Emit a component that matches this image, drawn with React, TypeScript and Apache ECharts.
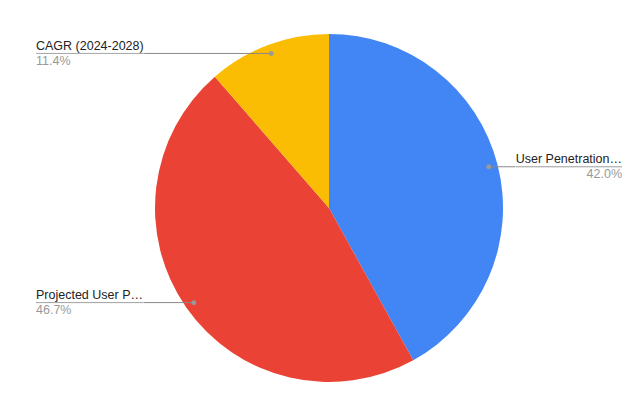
import React, { useEffect, useRef } from "react";
import * as echarts from "echarts";

const categories = ["User Penetration…", "Projected User P…", "CAGR (2024-2028)"];
const values = [42.0, 46.7, 11.4];
const colors = ["#4285F4", "#EA4335", "#FBBC04"];
// label edge distance per slice (left side slices sit 36px from the edge, right side 14px)
const edgeDistances = [14, 36, 36];

const CX = 329;
const CY = 208;
const R = 174;
const LABEL_R = 165;
const FONT = "'Liberation Sans', Arial, sans-serif";

export default function App() {
  const ref = useRef<HTMLDivElement>(null);

  useEffect(() => {
    if (!ref.current) return;
    const chart = echarts.init(ref.current, undefined, { renderer: "svg" });

    const total = values.reduce((a, b) => a + b, 0);
    let acc = 0;
    const mids = values.map((v) => {
      const m = (acc + v / 2) / total;
      acc += v;
      return [m];
    });

    const option: any = {
      animation: false,
      backgroundColor: "#ffffff",
      series: [
        {
          type: "pie",
          center: [CX, CY],
          radius: [0, R],
          startAngle: 90,
          clockwise: true,
          silent: true,
          label: { show: false },
          labelLine: { show: false },
          itemStyle: { borderWidth: 0 },
          data: categories.map((name, i) => ({
            name,
            value: values[i],
            itemStyle: { color: colors[i] },
          })),
          z: 1,
        },
        {
          type: "pie",
          center: [CX, CY],
          radius: [0, LABEL_R],
          startAngle: 90,
          clockwise: true,
          silent: true,
          itemStyle: { color: "rgba(0,0,0,0)", borderWidth: 0 },
          labelLine: {
            show: true,
            length: 0,
            length2: 20,
            smooth: false,
            lineStyle: { color: "#888", width: 1 },
          },
          data: categories.map((name, i) => ({
            name,
            value: values[i],
            label: {
              show: true,
              position: "outside",
              alignTo: "edge",
              edgeDistance: edgeDistances[i],
              distanceToLabelLine: 0,
              formatter: (p: any) =>
                `{name|${p.name}}\n{hr|}\n{pct|${p.value.toFixed(1)}%}`,
              rich: {
                name: { fontSize: 12.5, color: "#222", lineHeight: 15, fontFamily: FONT },
                hr: {
                  width: "100%",
                  height: 0,
                  lineHeight: 0,
                  borderColor: "#888",
                  borderWidth: 0.5,
                },
                pct: { fontSize: 12.5, color: "#999", lineHeight: 15, fontFamily: FONT },
              },
            },
          })),
          z: 2,
        },
        {
          type: "custom",
          coordinateSystem: "none",
          silent: true,
          z: 3,
          data: mids,
          renderItem: (_params: any, api: any) => {
            const frac = api.value(0);
            const ang = frac * Math.PI * 2;
            return {
              type: "circle",
              shape: {
                cx: CX + LABEL_R * Math.sin(ang),
                cy: CY - LABEL_R * Math.cos(ang),
                r: 2.5,
              },
              style: { fill: "#999" },
            };
          },
        },
      ],
    };

    chart.setOption(option);
    return () => chart.dispose();
  }, []);

  return (
    <div
      ref={ref}
      style={{ position: "absolute", left: 0, top: 0, width: 636, height: 413 }}
    />
  );
}
